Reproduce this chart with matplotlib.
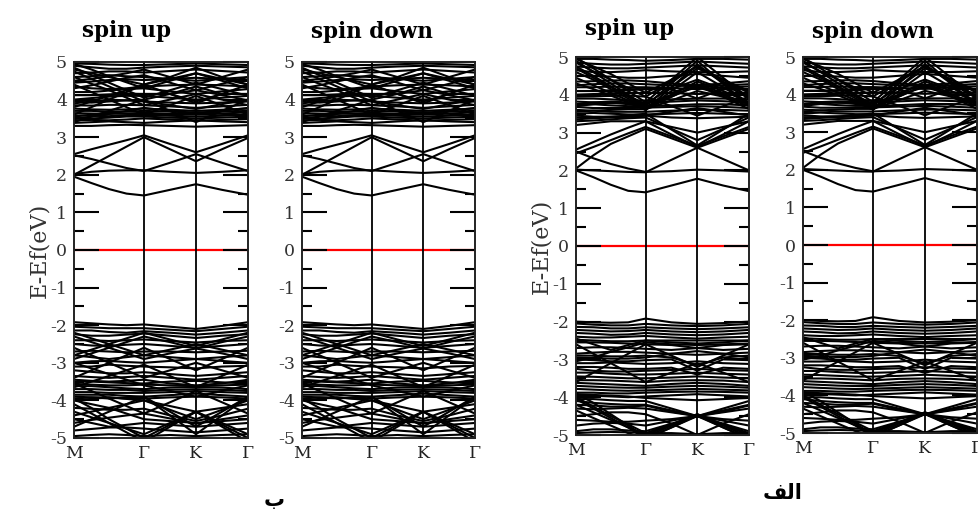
import matplotlib
matplotlib.use("Agg")
import matplotlib.pyplot as plt
from matplotlib.ticker import MultipleLocator

plt.rcParams['font.family'] = ['DejaVu Serif']
plt.rcParams['axes.unicode_minus'] = False

# k-path: node positions along M-Γ-K-Γ and the high-symmetry labels
kpath_nodes = [0.0, 17.5, 35.0, 52.5, 70.0, 96.0, 122.0, 148.0, 174.0]
kpath_ticks = [0.0, 70.0, 122.0, 174.0]
kpath_labels = ['M', 'Γ', 'K', 'Γ']
energy_ticks = list(range(-5, 6))

titles = ['spin up', 'spin down']
group_labels = ['ب', '\uFED2\uFEDF\uFE8D']   # "ب" and "الف" (shaped)

# ---- structure "ب": energies (eV) at the k-path nodes ----
cond_b = [
    [1.95, 1.78, 1.62, 1.50, 1.45, 1.60, 1.75, 1.60, 1.47],
    [2.00, 2.25, 2.50, 2.75, 3.00, 2.68, 2.36, 2.68, 2.98],
    [2.52, 2.42, 2.30, 2.18, 2.10, 2.32, 2.55, 2.32, 2.10],
    [2.02, 2.08, 2.11, 2.12, 2.12, 2.08, 2.05, 2.08, 2.12],
    [2.55, 2.68, 2.80, 2.92, 3.05, 2.82, 2.60, 2.82, 3.05],
    [3.30, 3.30, 3.32, 3.33, 3.32, 3.30, 3.28, 3.30, 3.32],
    [3.38, 3.40, 3.42, 3.40, 3.38, 3.42, 3.45, 3.42, 3.40],
    [3.45, 3.46, 3.45, 3.47, 3.50, 3.47, 3.44, 3.46, 3.48],
    [3.52, 3.50, 3.52, 3.55, 3.55, 3.52, 3.50, 3.52, 3.55],
    [3.58, 3.57, 3.56, 3.58, 3.60, 3.57, 3.55, 3.57, 3.60],
    [3.64, 3.63, 3.62, 3.63, 3.65, 3.62, 3.60, 3.63, 3.66],
    [3.70, 3.70, 3.68, 3.68, 3.70, 3.68, 3.66, 3.68, 3.70],
    [3.76, 3.74, 3.73, 3.74, 3.76, 3.73, 3.70, 3.73, 3.76],
    [3.85, 3.84, 3.86, 3.86, 3.85, 3.82, 3.78, 3.82, 3.86],
    [4.00, 4.04, 4.08, 4.10, 4.10, 4.05, 4.00, 4.05, 4.10],
    [4.20, 4.20, 4.24, 4.28, 4.30, 4.22, 4.15, 4.22, 4.28],
    [4.85, 4.65, 4.45, 4.25, 4.05, 4.25, 4.45, 4.28, 4.10],
    [4.75, 4.55, 4.35, 4.15, 3.95, 3.85, 3.75, 3.88, 4.00],
    [4.60, 4.42, 4.25, 4.05, 3.85, 4.00, 4.15, 4.00, 3.85],
    [4.50, 4.55, 4.62, 4.70, 4.80, 4.60, 4.40, 4.60, 4.80],
    [4.30, 4.38, 4.48, 4.58, 4.65, 4.45, 4.25, 4.42, 4.60],
    [4.40, 4.20, 4.00, 3.80, 3.60, 3.85, 4.10, 3.85, 3.60],
    [3.60, 3.80, 4.00, 4.20, 4.40, 4.15, 3.90, 4.15, 4.40],
    [4.95, 4.80, 4.62, 4.46, 4.30, 4.50, 4.70, 4.50, 4.30],
    [4.70, 4.72, 4.75, 4.75, 4.72, 4.76, 4.80, 4.76, 4.72],
    [4.90, 4.86, 4.82, 4.82, 4.85, 4.88, 4.90, 4.88, 4.86],
    [4.96, 4.95, 4.93, 4.92, 4.92, 4.94, 4.96, 4.94, 4.92],
    [4.45, 4.48, 4.52, 4.54, 4.52, 4.55, 4.58, 4.55, 4.52],
    [4.12, 4.12, 4.14, 4.16, 4.15, 4.15, 4.35, 4.15, 4.15],
    [4.12, 4.12, 4.12, 4.14, 4.15, 4.15, 3.95, 4.15, 4.15],
    [3.95, 3.92, 3.95, 3.98, 4.00, 4.15, 4.25, 4.12, 3.98],
    [3.40, 3.55, 3.70, 3.85, 4.00, 3.70, 3.40, 3.70, 4.00],
    [3.90, 3.95, 4.00, 3.98, 3.95, 3.92, 3.90, 3.92, 3.95],
    [4.35, 4.30, 4.28, 4.30, 4.35, 4.38, 4.40, 4.38, 4.35],
    [4.60, 4.62, 4.65, 4.62, 4.60, 4.55, 4.50, 4.55, 4.60],
    [3.80, 3.95, 4.10, 4.25, 4.40, 4.55, 4.70, 4.55, 4.40],
    [4.80, 4.70, 4.60, 4.50, 4.40, 4.60, 4.85, 4.60, 4.40],
    [3.55, 3.60, 3.65, 3.62, 3.58, 3.62, 3.66, 3.62, 3.58],
    [3.48, 3.55, 3.62, 3.70, 3.78, 3.70, 3.62, 3.70, 3.78],
]
val_b = [
    [-1.92, -1.95, -1.98, -2.00, -1.98, -2.04, -2.10, -2.02, -1.92],
    [-2.04, -2.06, -2.08, -2.08, -2.08, -2.12, -2.16, -2.10, -2.04],
    [-2.14, -2.14, -2.18, -2.20, -2.16, -2.20, -2.25, -2.20, -2.14],
    [-2.24, -2.28, -2.28, -2.25, -2.22, -2.28, -2.34, -2.28, -2.24],
    [-2.30, -2.45, -2.60, -2.45, -2.30, -2.45, -2.62, -2.45, -2.30],
    [-2.90, -2.75, -2.60, -2.75, -2.90, -2.75, -2.62, -2.75, -2.90],
    [-2.40, -2.40, -2.42, -2.40, -2.38, -2.42, -2.46, -2.42, -2.40],
    [-2.50, -2.54, -2.55, -2.52, -2.50, -2.55, -2.60, -2.55, -2.50],
    [-2.70, -2.68, -2.70, -2.72, -2.70, -2.70, -2.72, -2.70, -2.68],
    [-2.80, -2.85, -2.90, -2.85, -2.80, -2.85, -2.90, -2.85, -2.80],
    [-3.00, -2.96, -2.95, -2.98, -3.00, -2.95, -2.90, -2.95, -3.00],
    [-3.10, -3.10, -3.05, -3.08, -3.10, -3.12, -3.15, -3.10, -3.08],
    [-2.60, -2.80, -3.00, -3.20, -3.40, -3.20, -3.00, -3.20, -3.40],
    [-3.40, -3.20, -3.00, -2.80, -2.60, -2.90, -3.20, -2.90, -2.60],
    [-3.20, -3.24, -3.28, -3.28, -3.25, -3.30, -3.35, -3.30, -3.25],
    [-3.35, -3.38, -3.40, -3.38, -3.35, -3.40, -3.45, -3.40, -3.35],
    [-3.50, -3.50, -3.52, -3.54, -3.55, -3.50, -3.48, -3.52, -3.55],
    [-3.56, -3.58, -3.60, -3.60, -3.58, -3.60, -3.62, -3.60, -3.58],
    [-3.62, -3.62, -3.65, -3.68, -3.70, -3.66, -3.64, -3.66, -3.70],
    [-3.70, -3.70, -3.72, -3.72, -3.75, -3.72, -3.70, -3.72, -3.75],
    [-3.78, -3.78, -3.80, -3.80, -3.80, -3.78, -3.75, -3.78, -3.80],
    [-3.85, -3.85, -3.85, -3.88, -3.90, -3.86, -3.82, -3.86, -3.90],
    [-3.95, -3.92, -3.92, -3.95, -3.95, -3.92, -3.90, -3.92, -3.95],
    [-3.95, -4.20, -4.50, -4.75, -5.00, -4.65, -4.30, -4.65, -5.00],
    [-4.10, -4.35, -4.60, -4.85, -5.10, -4.70, -4.30, -4.70, -5.10],
    [-4.30, -4.45, -4.60, -4.75, -4.90, -4.60, -4.30, -4.60, -4.90],
    [-4.00, -3.96, -3.92, -3.96, -4.00, -4.25, -4.50, -4.25, -4.00],
    [-3.90, -3.92, -3.95, -3.92, -3.90, -4.30, -4.70, -4.30, -3.90],
    [-4.40, -4.30, -4.20, -4.10, -4.00, -4.15, -4.30, -4.20, -4.10],
    [-4.60, -4.52, -4.46, -4.40, -4.35, -4.48, -4.62, -4.50, -4.40],
    [-4.80, -4.76, -4.72, -4.72, -4.75, -4.80, -4.85, -4.80, -4.75],
    [-4.95, -4.92, -4.90, -4.92, -4.95, -4.92, -4.95, -4.92, -4.90],
    [-3.55, -3.75, -3.95, -4.15, -4.35, -4.05, -3.75, -4.05, -4.35],
    [-4.70, -4.50, -4.30, -4.10, -3.90, -4.40, -4.90, -4.40, -3.90],
    [-2.20, -2.35, -2.50, -2.65, -2.80, -2.65, -2.50, -2.65, -2.80],
    [-2.80, -2.65, -2.50, -2.35, -2.20, -2.38, -2.55, -2.38, -2.20],
    [-3.00, -3.15, -3.30, -3.45, -3.60, -3.75, -3.90, -3.75, -3.60],
    [-3.65, -3.50, -3.35, -3.20, -3.05, -3.35, -3.65, -3.35, -3.05],
    [-3.45, -3.48, -3.50, -3.48, -3.45, -3.55, -3.60, -3.55, -3.45],
    [-4.20, -4.22, -4.25, -4.25, -4.22, -4.40, -4.55, -4.40, -4.22],
    [-4.50, -4.60, -4.70, -4.65, -4.60, -4.65, -4.70, -4.65, -4.60],
    [-4.00, -4.10, -4.20, -4.35, -4.50, -4.55, -4.60, -4.55, -4.50],
]

# ---- structure "الف": energies (eV) at the k-path nodes ----
cond_alef = [
    [2.00, 1.82, 1.62, 1.46, 1.42, 1.60, 1.78, 1.60, 1.45],
    [2.02, 2.00, 1.98, 1.96, 1.95, 2.28, 2.60, 2.30, 2.00],
    [2.05, 2.40, 2.70, 2.90, 3.10, 2.85, 2.60, 2.85, 3.10],
    [2.50, 2.32, 2.17, 2.05, 1.96, 1.98, 2.02, 2.00, 1.97],
    [2.55, 2.75, 2.95, 3.13, 3.30, 2.95, 2.62, 2.95, 3.30],
    [2.45, 2.62, 2.80, 2.98, 3.15, 2.90, 2.65, 2.90, 3.15],
    [3.20, 3.25, 3.30, 3.30, 3.30, 3.15, 3.00, 3.15, 3.30],
    [3.30, 3.32, 3.35, 3.38, 3.40, 3.10, 2.80, 3.10, 3.40],
    [3.40, 3.40, 3.42, 3.45, 3.50, 3.08, 2.66, 3.08, 3.50],
    [4.90, 4.60, 4.30, 4.00, 3.68, 4.00, 4.35, 4.10, 3.80],
    [4.75, 4.50, 4.22, 3.95, 3.65, 3.95, 4.25, 4.00, 3.75],
    [4.60, 4.40, 4.15, 3.90, 3.62, 3.85, 4.10, 3.95, 3.70],
    [4.45, 4.25, 4.05, 3.85, 3.60, 4.10, 4.60, 4.20, 3.80],
    [4.30, 4.15, 3.98, 3.80, 3.60, 4.20, 4.80, 4.30, 3.90],
    [3.70, 3.75, 3.80, 3.75, 3.70, 4.30, 4.90, 4.30, 3.70],
    [3.75, 3.80, 3.82, 3.80, 3.75, 4.20, 4.70, 4.40, 4.10],
    [4.95, 4.95, 4.93, 4.92, 4.90, 4.92, 4.95, 4.95, 4.93],
    [4.85, 4.82, 4.80, 4.80, 4.82, 4.85, 4.88, 4.85, 4.82],
    [4.65, 4.60, 4.60, 4.62, 4.65, 4.62, 4.60, 4.60, 4.62],
    [4.50, 4.50, 4.48, 4.45, 4.45, 4.50, 4.55, 4.50, 4.45],
    [4.20, 4.20, 4.22, 4.20, 4.20, 4.18, 4.15, 4.20, 4.22],
    [4.10, 4.10, 4.12, 4.15, 4.15, 4.15, 4.40, 4.15, 4.15],
    [4.10, 4.10, 4.10, 4.12, 4.15, 4.15, 3.90, 4.15, 4.15],
    [4.00, 4.02, 4.04, 4.05, 4.05, 4.05, 4.28, 4.05, 4.05],
    [4.00, 4.00, 4.02, 4.04, 4.05, 4.05, 4.02, 4.05, 4.05],
    [3.90, 3.90, 3.88, 3.85, 3.85, 3.88, 3.90, 3.90, 3.88],
    [3.82, 3.80, 3.78, 3.78, 3.80, 3.82, 3.85, 3.83, 3.80],
    [3.75, 3.75, 3.72, 3.70, 3.70, 3.72, 3.75, 3.75, 3.72],
    [3.68, 3.65, 3.65, 3.65, 3.66, 3.68, 3.70, 3.68, 3.65],
    [3.60, 3.58, 3.55, 3.55, 3.55, 3.58, 3.60, 3.60, 3.58],
    [3.50, 3.52, 3.50, 3.48, 3.48, 3.50, 3.52, 3.50, 3.48],
    [3.45, 3.42, 3.42, 3.42, 3.45, 3.40, 3.38, 3.40, 3.42],
    [4.98, 4.70, 4.40, 4.10, 3.80, 4.40, 5.00, 4.45, 3.90],
    [4.35, 4.36, 4.38, 4.38, 4.36, 4.30, 4.25, 4.30, 4.36],
    [3.95, 3.96, 3.97, 3.98, 3.95, 3.70, 3.45, 3.70, 3.95],
    [4.95, 4.75, 4.55, 4.30, 4.05, 4.40, 4.75, 4.40, 4.05],
    [4.85, 4.62, 4.40, 4.18, 3.95, 4.35, 4.75, 4.35, 3.95],
    [4.70, 4.45, 4.20, 3.98, 3.75, 4.00, 4.20, 4.00, 3.75],
    [3.55, 3.58, 3.60, 3.62, 3.62, 3.95, 4.25, 3.95, 3.62],
    [4.25, 4.28, 4.30, 4.30, 4.28, 4.25, 4.22, 4.25, 4.28],
    [4.75, 4.72, 4.70, 4.70, 4.72, 4.75, 4.78, 4.75, 4.72],
    [3.35, 3.38, 3.40, 3.42, 3.45, 3.55, 3.65, 3.55, 3.45],
]
val_alef = [
    [-2.00, -2.02, -2.03, -2.02, -1.92, -2.02, -2.06, -2.04, -2.00],
    [-2.05, -2.08, -2.10, -2.10, -2.06, -2.10, -2.12, -2.10, -2.06],
    [-2.14, -2.15, -2.18, -2.18, -2.15, -2.18, -2.20, -2.18, -2.15],
    [-2.22, -2.24, -2.26, -2.25, -2.22, -2.26, -2.28, -2.26, -2.22],
    [-2.30, -2.32, -2.35, -2.34, -2.30, -2.34, -2.36, -2.34, -2.30],
    [-2.40, -2.42, -2.42, -2.40, -2.38, -2.42, -2.45, -2.42, -2.40],
    [-2.45, -2.60, -2.75, -2.62, -2.50, -2.50, -2.50, -2.50, -2.50],
    [-3.05, -2.95, -2.80, -2.68, -2.55, -2.60, -2.62, -2.60, -2.58],
    [-2.55, -2.55, -2.56, -2.58, -2.60, -2.62, -2.70, -2.62, -2.60],
    [-2.70, -2.68, -2.68, -2.70, -2.72, -2.75, -2.70, -2.75, -2.72],
    [-2.85, -2.82, -2.80, -2.80, -2.82, -2.85, -2.78, -2.85, -2.82],
    [-2.90, -2.90, -2.92, -2.92, -2.90, -2.95, -3.15, -2.95, -2.90],
    [-3.00, -3.02, -3.05, -3.05, -3.02, -3.00, -3.30, -3.00, -3.02],
    [-3.10, -3.10, -3.08, -3.10, -3.12, -3.10, -3.05, -3.10, -3.12],
    [-3.20, -3.20, -3.22, -3.25, -3.25, -3.22, -3.40, -3.22, -3.25],
    [-2.60, -2.85, -3.10, -3.35, -3.60, -3.35, -3.10, -3.35, -3.60],
    [-3.60, -3.35, -3.10, -2.85, -2.60, -2.90, -3.20, -2.90, -2.60],
    [-3.35, -3.35, -3.38, -3.40, -3.40, -3.38, -3.35, -3.38, -3.40],
    [-3.45, -3.46, -3.48, -3.50, -3.50, -3.48, -3.45, -3.48, -3.50],
    [-3.55, -3.55, -3.56, -3.58, -3.60, -3.56, -3.55, -3.56, -3.60],
    [-3.62, -3.64, -3.66, -3.68, -3.70, -3.65, -3.62, -3.65, -3.70],
    [-3.70, -3.72, -3.74, -3.75, -3.75, -3.72, -3.70, -3.72, -3.75],
    [-3.78, -3.80, -3.82, -3.83, -3.82, -3.80, -3.78, -3.80, -3.82],
    [-3.88, -3.88, -3.90, -3.90, -3.88, -3.86, -3.85, -3.86, -3.88],
    [-3.95, -3.96, -3.98, -4.00, -3.98, -3.95, -3.92, -3.95, -3.98],
    [-3.90, -4.15, -4.45, -4.75, -5.05, -4.75, -4.45, -4.75, -5.05],
    [-4.05, -4.30, -4.55, -4.80, -5.10, -4.80, -4.48, -4.80, -5.10],
    [-4.20, -4.40, -4.60, -4.80, -5.00, -4.72, -4.45, -4.72, -5.00],
    [-4.05, -4.05, -4.08, -4.10, -4.10, -4.30, -4.50, -4.30, -4.10],
    [-4.10, -4.15, -4.18, -4.20, -4.20, -4.35, -4.50, -4.35, -4.20],
    [-4.50, -4.45, -4.40, -4.40, -4.45, -4.70, -5.00, -4.70, -4.45],
    [-4.90, -4.85, -4.85, -4.88, -4.90, -4.70, -4.50, -4.70, -4.90],
    [-4.95, -4.93, -4.92, -4.93, -4.95, -4.95, -4.98, -4.95, -4.95],
    [-4.35, -4.55, -4.75, -4.95, -5.10, -4.80, -4.50, -4.80, -5.10],
    [-2.48, -2.50, -2.52, -2.52, -2.50, -2.55, -2.58, -2.55, -2.50],
    [-2.95, -2.96, -2.98, -2.98, -2.95, -2.85, -2.88, -2.85, -2.95],
    [-3.25, -3.30, -3.32, -3.32, -3.30, -3.28, -3.25, -3.28, -3.30],
    [-4.20, -4.22, -4.25, -4.25, -4.22, -4.38, -4.50, -4.38, -4.22],
    [-4.30, -4.32, -4.30, -4.28, -4.30, -4.40, -4.50, -4.40, -4.30],
    [-4.60, -4.62, -4.65, -4.65, -4.62, -4.58, -4.50, -4.58, -4.62],
    [-4.75, -4.70, -4.68, -4.70, -4.75, -4.62, -4.50, -4.62, -4.75],
    [-4.00, -4.25, -4.50, -4.72, -4.95, -4.72, -4.50, -4.72, -4.95],
    [-3.92, -3.94, -3.96, -3.98, -4.02, -4.05, -4.08, -4.05, -4.02],
]

W, H = 979, 514
fig = plt.figure(figsize=(W / 100, H / 100), dpi=100)


def px_rect(left, top, right, bottom):
    return [left / W, 1 - bottom / H, (right - left) / W, (bottom - top) / H]


def draw_panel(rect, bands, ylabel=False):
    ax = fig.add_axes(rect)
    for band in bands:
        ax.plot(kpath_nodes, band, color='black', lw=1.5, zorder=2)
    for k in kpath_ticks[1:3]:
        ax.axvline(k, color='black', lw=1.3, zorder=2)
    ax.axhline(0, color='red', lw=1.6, zorder=1.5)
    ax.set_xlim(kpath_ticks[0], kpath_ticks[-1])
    ax.set_ylim(-5, 5)
    ax.set_yticks(energy_ticks)
    ax.set_yticklabels([str(v) for v in energy_ticks])
    ax.yaxis.set_minor_locator(MultipleLocator(0.5))
    ax.tick_params(axis='y', which='major', direction='in', length=18,
                   width=1.5, left=True, right=True, labelsize=12.5,
                   labelcolor='#333333', pad=5)
    ax.tick_params(axis='y', which='minor', direction='in', length=7,
                   width=1.5, left=True, right=True)
    ax.set_xticks(kpath_ticks)
    ax.set_xticklabels(kpath_labels)
    ax.tick_params(axis='x', length=0, labelsize=12.5, labelcolor='#222222',
                   pad=5)
    for s in ax.spines.values():
        s.set_linewidth(1.4)
        s.set_color('#222222')
    if ylabel:
        ax.set_ylabel('E-Ef(eV)', fontsize=16, color='#333333', labelpad=0)
    return ax


# structure "ب" (left pair)
draw_panel(px_rect(74, 62, 248, 438), cond_b + val_b, ylabel=True)
draw_panel(px_rect(302, 62, 475, 438), cond_b + val_b)
# structure "الف" (right pair)
draw_panel(px_rect(576, 57, 749, 435), cond_alef + val_alef, ylabel=True)
draw_panel(px_rect(803, 57, 977, 433), cond_alef + val_alef)

title_pos = [(127, 31, titles[0]), (372, 32, titles[1]),
             (630, 29, titles[0]), (873, 32, titles[1])]
for x, y, t in title_pos:
    fig.text(x / W, 1 - y / H, t, ha='center', va='center', fontsize=15.5,
             fontweight='bold', color='black')

fig.text(274 / W, 1 - 500 / H, group_labels[0], ha='center', va='center',
         fontsize=15, fontweight='bold', family=['DejaVu Sans'])
fig.text(783 / W, 1 - 493 / H, group_labels[1], ha='center', va='center',
         fontsize=15, fontweight='bold', family=['DejaVu Sans'])

fig.savefig('out.png', dpi=100)
